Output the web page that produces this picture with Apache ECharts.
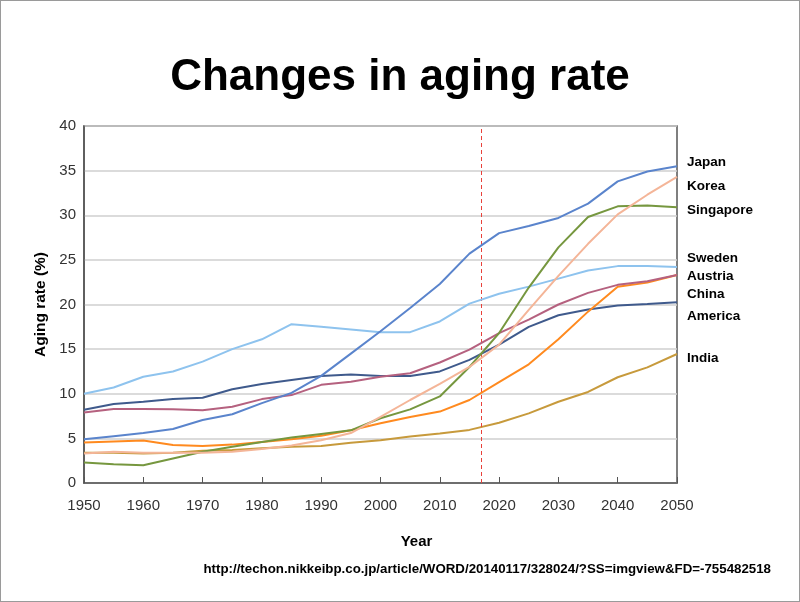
<!DOCTYPE html>
<html>
<head>
<meta charset="utf-8">
<script src="https://cdn.jsdelivr.net/npm/echarts@6/dist/echarts.min.js"></script>
<style>
html,body{margin:0;padding:0;background:#fff;}
#frame{position:absolute;left:0;top:0;width:798px;height:600px;border:1px solid #9a9a9a;}
#chart{position:absolute;left:0;top:0;width:800px;height:602px;}
</style>
</head>
<body>
<div id="frame"></div>
<div id="chart"></div>
<script>
const years = [1950,1955,1960,1965,1970,1975,1980,1985,1990,1995,2000,2005,2010,2015,2020,2025,2030,2035,2040,2045,2050];
const japan     = [4.9,5.25,5.6,6.05,7.05,7.7,8.95,10.1,12.0,14.5,17.0,19.6,22.3,25.7,28.0,28.8,29.7,31.3,33.8,34.9,35.5];
const korea     = [3.3,3.5,3.4,3.4,3.4,3.5,3.8,4.2,4.8,5.6,7.4,9.3,11.1,13.0,15.5,19.4,23.2,26.8,30.1,32.3,34.3];
const singapore = [2.3,2.1,2.0,2.75,3.5,4.05,4.6,5.1,5.5,5.9,7.25,8.25,9.7,13.0,16.8,21.9,26.4,29.8,31.0,31.1,30.9];
const sweden    = [10.0,10.7,11.9,12.5,13.6,15.0,16.1,17.8,17.5,17.2,16.9,16.9,18.1,20.1,21.2,22.0,22.9,23.8,24.3,24.3,24.2];
const austria   = [7.9,8.3,8.3,8.25,8.15,8.55,9.4,9.85,11.0,11.35,11.9,12.3,13.5,14.95,16.8,18.3,20.0,21.3,22.2,22.6,23.3];
const china     = [4.55,4.65,4.75,4.25,4.15,4.3,4.6,4.9,5.3,5.9,6.7,7.4,8.0,9.3,11.3,13.3,16.1,19.2,22.0,22.45,23.3];
const america   = [8.2,8.85,9.1,9.4,9.55,10.5,11.1,11.55,12.0,12.15,12.0,12.0,12.5,13.8,15.5,17.5,18.8,19.45,19.9,20.05,20.25];
const india     = [3.4,3.4,3.3,3.4,3.6,3.7,3.9,4.07,4.15,4.5,4.8,5.2,5.55,5.95,6.75,7.8,9.1,10.2,11.85,12.95,14.45];
const xTicks = [1950,1960,1970,1980,1990,2000,2010,2020,2030,2040,2050];
const yTicks = [0,5,10,15,20,25,30,35,40];
const projectionYear = 2017;
const seriesNames = ['Japan','Korea','Singapore','Sweden','Austria','China','America','India'];
const seriesData = [japan,korea,singapore,sweden,austria,china,america,india];
const colors = ['#5a84cc','#f4b598','#76973f','#8ec3ee','#b5617f','#ff8a1f','#3f5a8c','#c79a3c'];
const labelY = [161,185,209,257,275,293,315,357];

const chart = echarts.init(document.getElementById('chart'));
const series = seriesNames.map((n,i)=>({
  name:n, type:'line', symbol:'none', smooth:false,
  data: years.map((y,j)=>[y, seriesData[i][j]]),
  lineStyle:{width:2, color:colors[i]}, itemStyle:{color:colors[i]},
  z: 3 + (8-i)
}));
series[0].markLine = {
  silent:true, symbol:'none', label:{show:false},
  lineStyle:{type:[4,3], color:'#e8413a', width:1},
  data:[{xAxis: projectionYear, lineStyle:{color:'#e8413a'}}]
};
chart.setOption({
  animation:false,
  title:{text:'Changes in aging rate', left:'center', top:51,
    textStyle:{fontFamily:'Liberation Sans, Arial', fontWeight:'bold', fontSize:44, color:'#000'}},
  grid:{left:84, right:123, top:126, bottom:119, show:true, borderColor:'#555', borderWidth:1.5, backgroundColor:'transparent'},
  xAxis:{type:'value', min:1950, max:2050, interval:10,
    name:'Year', nameLocation:'middle', nameGap:51,
    nameTextStyle:{fontFamily:'Liberation Sans, Arial', fontWeight:'bold', fontSize:15, color:'#000', padding:[0,0,0,72]},
    axisLine:{lineStyle:{color:'#555', width:1.5}},
    axisTick:{inside:true, length:6, lineStyle:{color:'#555'}},
    splitLine:{show:false},
    axisLabel:{fontFamily:'Liberation Sans, Arial', fontSize:15, color:'#333', margin:15, formatter:v=>String(v)}},
  yAxis:{type:'value', min:0, max:40, interval:5,
    name:'Aging rate (%)', nameLocation:'middle', nameGap:31, nameRotate:90,
    nameTextStyle:{fontFamily:'Liberation Sans, Arial', fontWeight:'bold', fontSize:15.5, color:'#000'},
    axisLine:{show:true, lineStyle:{color:'#555', width:1.5}},
    axisTick:{show:false},
    splitLine:{lineStyle:{color:'#cfcfcf', width:1.5}},
    axisLabel:{fontFamily:'Liberation Sans, Arial', fontSize:15, color:'#333', margin:8}},
  graphic: seriesNames.map((n,i)=>({
    type:'text', left:687, top:labelY[i]-6,
    style:{text:n, font:'bold 13.5px "Liberation Sans", Arial', fill:'#000'}
  })).concat([{
    type:'text', right:29, top:563,
    style:{text:'http://techon.nikkeibp.co.jp/article/WORD/20140117/328024/?SS=imgview&FD=-755482518',
      font:'bold 13.3px "Liberation Sans", Arial', fill:'#000'}
  }]),
  series: series
});
</script>
</body>
</html>
